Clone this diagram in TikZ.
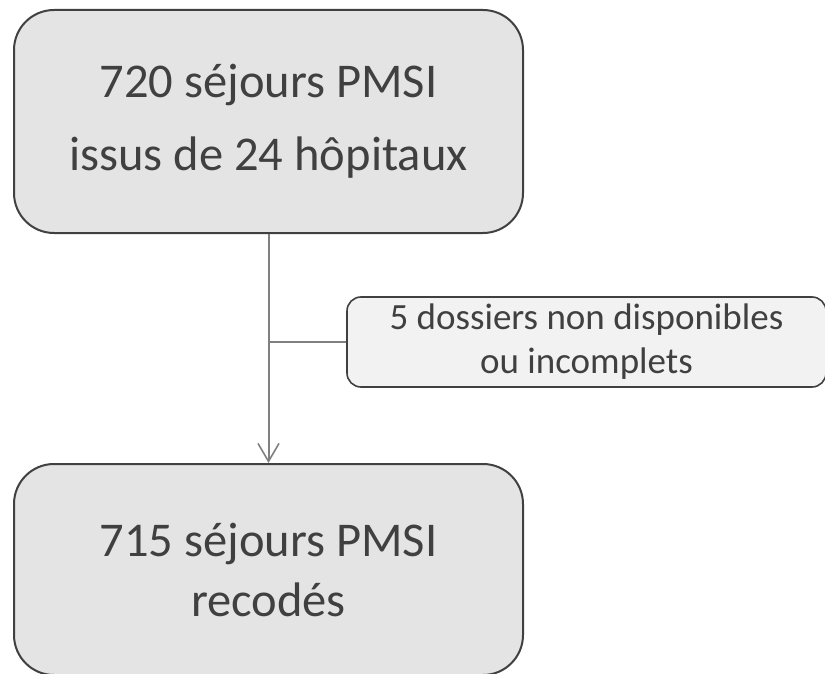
\documentclass[tikz,border=0pt]{standalone}
\usepackage{fontspec}
\setmainfont{Carlito}
\usetikzlibrary{arrows.meta,positioning}
\definecolor{boxgray}{HTML}{E4E4E4}
\definecolor{notegray}{HTML}{F2F2F2}
\definecolor{edgegray}{HTML}{404040}
\definecolor{linkgray}{HTML}{808080}

\begin{document}
\begin{tikzpicture}[
  x=1pt, y=1pt,
  bigbox/.style={draw=edgegray, fill=boxgray, line width=2pt, rounded corners=40pt,
    minimum width=509pt, align=center, text=edgegray},
  notebox/.style={draw=edgegray, fill=notegray, line width=1.6pt, rounded corners=14pt,
    minimum width=479pt, minimum height=90pt, align=center, text=edgegray,
    font=\fontsize{37}{44}\selectfont},
  arr/.style={-{Straight Barb[length=18pt, width=21pt, line width=1.6pt]}, draw=linkgray, line width=2pt},
]
  \useasboundingbox (0,0) rectangle (825,-674);

  % Boxes
  \node[bigbox, minimum height=223pt, font=\fontsize{48.5}{73}\selectfont] (src) at (268.5,-121.5)
    {720 séjours PMSI\\issus de 24 hôpitaux};
  \node[bigbox, minimum height=211pt, font=\fontsize{48.5}{60}\selectfont, below=229pt of src] (dst)
    {715 séjours PMSI\\recodés};

  % Exclusion
  \node[notebox] (excl) at (586.5,-342) {5 dossiers non disponibles\\ou incomplets};

  \draw[arr] (src) -- (dst);
  \draw[draw=linkgray, line width=2pt] (src.south |- excl.west) -- (excl.west);
\end{tikzpicture}
\end{document}
